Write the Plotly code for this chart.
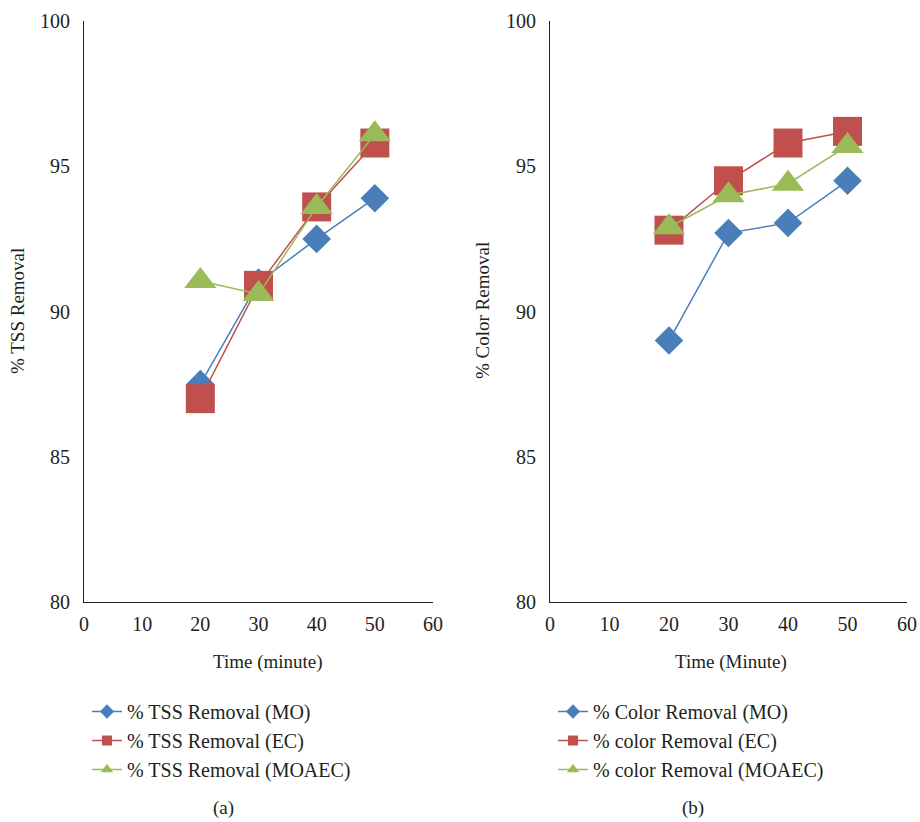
import plotly.graph_objects as go

time = [20, 30, 40, 50]
tss_mo = [87.5, 91.0, 92.5, 93.9]
tss_ec = [87.0, 90.9, 93.6, 95.8]
tss_moaec = [91.05, 90.6, 93.6, 96.1]
col_mo = [89.0, 92.7, 93.05, 94.5]
col_ec = [92.8, 94.5, 95.8, 96.2]
col_moaec = [92.9, 94.0, 94.4, 95.7]

names_a = ["% TSS Removal (MO)", "% TSS Removal (EC)", "% TSS Removal (MOAEC)"]
names_b = ["% Color Removal (MO)", "% color Removal (EC)", "% color Removal (MOAEC)"]
xticks = [0, 10, 20, 30, 40, 50, 60]
yticks = [80, 85, 90, 95, 100]

BLUE = "#4A7EBB"
RED = "#C0504D"
GREEN = "#9BBB59"
FONT = "Liberation Serif"
TXT = "#231F20"

styles = [
    (BLUE, "diamond", 22, 11),
    (RED, "square", 29, 10),
    (GREEN, "triangle-up", 28, 11),
]

fig = go.Figure()

def add_panel(series, names, xa, ya, leg, grp):
    for i, (vals, nm) in enumerate(zip(series, names)):
        c, sym, sz, lsz = styles[i]
        fig.add_trace(go.Scatter(x=time, y=vals, name=nm, mode="lines+markers",
                                 line=dict(color=c, width=1.5),
                                 marker=dict(symbol=sym, size=sz, color=c),
                                 xaxis=xa, yaxis=ya, showlegend=False,
                                 legendgroup=grp + str(i)))
        # legend entry with small marker
        fig.add_trace(go.Scatter(x=[None], y=[None], name=nm, mode="lines+markers",
                                 line=dict(color=c, width=1.5),
                                 marker=dict(symbol=sym, size=lsz, color=c),
                                 xaxis=xa, yaxis=ya, legend=leg,
                                 legendgroup=grp + str(i)))

add_panel([tss_mo, tss_ec, tss_moaec], names_a, "x", "y", "legend", "a")
add_panel([col_mo, col_ec, col_moaec], names_b, "x2", "y2", "legend2", "b")

W, H = 920, 822
def px(x):
    return x / W
def py(y):
    return 1 - y / H

axis_common = dict(showgrid=False, zeroline=False, showline=True, linecolor="#222222",
                   linewidth=1.2, ticks="", automargin=False,
                   tickfont=dict(family=FONT, size=20, color=TXT))

def ann(text, x, y, angle=0, size=19):
    return dict(text=text, x=px(x), y=py(y), xref="paper", yref="paper", showarrow=False,
                xanchor="center", yanchor="middle", textangle=angle,
                font=dict(family=FONT, size=size, color=TXT))

fig.update_layout(
    width=W, height=H, margin=dict(l=0, r=0, t=0, b=0, pad=0, autoexpand=False),
    paper_bgcolor="white", plot_bgcolor="white",
    font=dict(family=FONT, color=TXT),
    xaxis=dict(domain=[px(84), px(433)], range=[0, 60], tickvals=xticks, anchor="y",
               ticklabelstandoff=4, **axis_common),
    yaxis=dict(domain=[py(602), py(21)], range=[80, 100], tickvals=yticks, anchor="x",
               ticklabelstandoff=9, **axis_common),
    xaxis2=dict(domain=[px(550), px(907)], range=[0, 60], tickvals=xticks, anchor="y2",
                ticklabelstandoff=4, **axis_common),
    yaxis2=dict(domain=[py(602), py(21)], range=[80, 100], tickvals=yticks, anchor="x2",
                ticklabelstandoff=9, **axis_common),
    legend=dict(x=px(87), y=py(692), xanchor="left", yanchor="top", itemsizing="trace",
                font=dict(family=FONT, size=20, color=TXT), tracegroupgap=0, bgcolor="rgba(0,0,0,0)"),
    legend2=dict(x=px(553), y=py(692), xanchor="left", yanchor="top", itemsizing="trace",
                 font=dict(family=FONT, size=20, color=TXT), tracegroupgap=0, bgcolor="rgba(0,0,0,0)"),
    showlegend=True,
    annotations=[
        ann("Time (minute)", 268, 662),
        ann("Time (Minute)", 731, 662),
        ann("% TSS Removal", 18, 311, -90),
        ann("% Color Removal", 483, 311, -90),
        ann("(a)", 223, 808),
        ann("(b)", 693, 808),
    ],
)

fig.write_html("out.html", config={"displayModeBar": False},
               post_script="document.body.style.margin='0';document.body.style.overflow='hidden';")
